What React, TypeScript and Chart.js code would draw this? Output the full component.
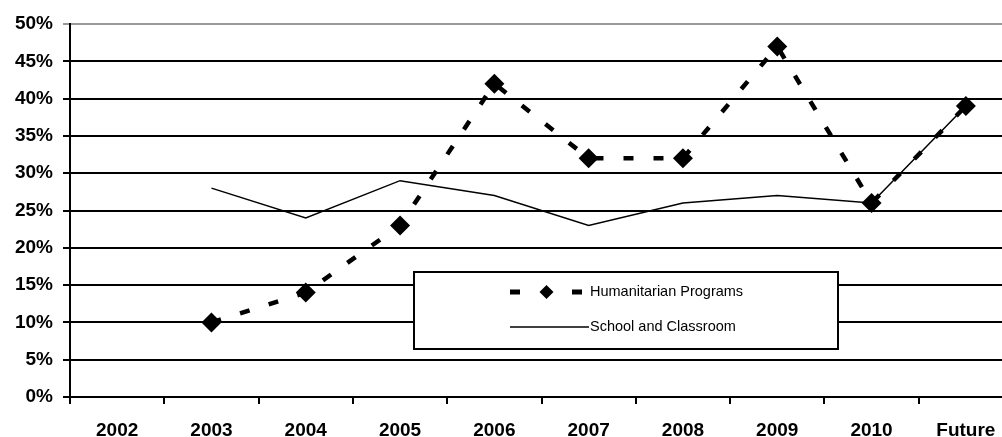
import React, { useEffect, useRef } from "react";
import { Chart, registerables } from "chart.js";

Chart.register(...registerables);

const categories = ["2002", "2003", "2004", "2005", "2006", "2007", "2008", "2009", "2010", "Future"];
const humanitarian = [null, 10, 14, 23, 42, 32, 32, 47, 26, 39];
const schoolClassroom = [null, 28, 24, 29, 27, 23, 26, 27, 26, 39];
const seriesNames = ["Humanitarian Programs", "School and Classroom"];

const FONT = "'Liberation Sans', Arial, Helvetica, sans-serif";

const legendPlugin = {
  id: "boxLegend",
  afterDatasetsDraw(chart: any) {
    const ctx = chart.ctx;
    const x0 = 414, y0 = 272, x1 = 838, y1 = 349;
    ctx.save();
    ctx.fillStyle = "#fff";
    ctx.fillRect(x0, y0, x1 - x0, y1 - y0);
    ctx.strokeStyle = "#000";
    ctx.lineWidth = 2;
    ctx.strokeRect(x0, y0, x1 - x0, y1 - y0);

    const ds = chart.data.datasets;
    const r1 = 292;
    ctx.fillStyle = "#000";
    ctx.fillRect(510, r1 - 2.5, 10, 5);
    ctx.fillRect(572, r1 - 2.5, 10, 5);
    ctx.beginPath();
    ctx.moveTo(546.5 - 7, r1);
    ctx.lineTo(546.5, r1 - 7);
    ctx.lineTo(546.5 + 7, r1);
    ctx.lineTo(546.5, r1 + 7);
    ctx.closePath();
    ctx.fill();
    const r2 = 327;
    ctx.lineWidth = 1.5;
    ctx.setLineDash([]);
    ctx.beginPath();
    ctx.moveTo(510, r2);
    ctx.lineTo(589, r2);
    ctx.stroke();

    ctx.font = `14.5px ${FONT}`;
    ctx.textBaseline = "middle";
    ctx.textAlign = "left";
    ctx.fillStyle = "#000";
    ctx.fillText(ds[0].label, 590, r1);
    ctx.fillText(ds[1].label, 590, r2);
    ctx.restore();
  },
};

export default function App() {
  const ref = useRef<HTMLCanvasElement | null>(null);

  useEffect(() => {
    if (!ref.current) return;
    const chart = new Chart(ref.current, {
      type: "line",
      data: {
        labels: categories,
        datasets: [
          {
            label: seriesNames[0],
            data: humanitarian,
            borderColor: "#000",
            backgroundColor: "#000",
            borderWidth: 4.5,
            borderDash: [10, 20],
            pointStyle: "rectRot",
            pointRadius: 10,
            pointBorderWidth: 0,
            pointBackgroundColor: "#000",
            tension: 0,
            order: 1,
          },
          {
            label: seriesNames[1],
            data: schoolClassroom,
            borderColor: "#000",
            backgroundColor: "#000",
            borderWidth: 1.5,
            pointRadius: 0,
            tension: 0,
            order: 2,
          },
        ],
      },
      options: {
        animation: false,
        responsive: false,
        layout: { padding: { top: 24, right: 0, bottom: 0, left: 0 } },
        plugins: { legend: { display: false }, tooltip: { enabled: false } },
        scales: {
          x: {
            type: "category",
            offset: true,
            grid: {
              offset: true,
              drawOnChartArea: false,
              drawTicks: true,
              tickLength: 7,
              color: "#000",
              lineWidth: 2,
            },
            border: { display: true, color: "#000", width: 2 },
            ticks: {
              color: "#000",
              font: { family: FONT, size: 19, weight: "bold" },
              padding: 15,
              maxRotation: 0,
              autoSkip: false,
            },
            afterFit(scale: any) {
              scale.height = 40;
            },
          },
          y: {
            min: 0,
            max: 50,
            grid: {
              color: (c: any) => (c.tick && c.tick.value === 50 ? "#999" : "#000"),
              lineWidth: 2,
              drawTicks: true,
              tickLength: 7,
            },
            border: { display: true, color: "#000", width: 2 },
            ticks: {
              stepSize: 5,
              color: "#000",
              font: { family: FONT, size: 19, weight: "bold" },
              padding: 10,
              callback: (v: any) => v + "%",
            },
            afterFit(scale: any) {
              scale.width = 70;
            },
          },
        },
      },
      plugins: [legendPlugin],
    });
    return () => chart.destroy();
  }, []);

  return (
    <div
      style={{
        position: "fixed",
        left: 0,
        top: 0,
        width: 1002,
        height: 437,
        overflow: "hidden",
        background: "#fff",
      }}
    >
      <canvas ref={ref} width={1023} height={437} style={{ width: 1023, height: 437, display: "block" }} />
    </div>
  );
}
